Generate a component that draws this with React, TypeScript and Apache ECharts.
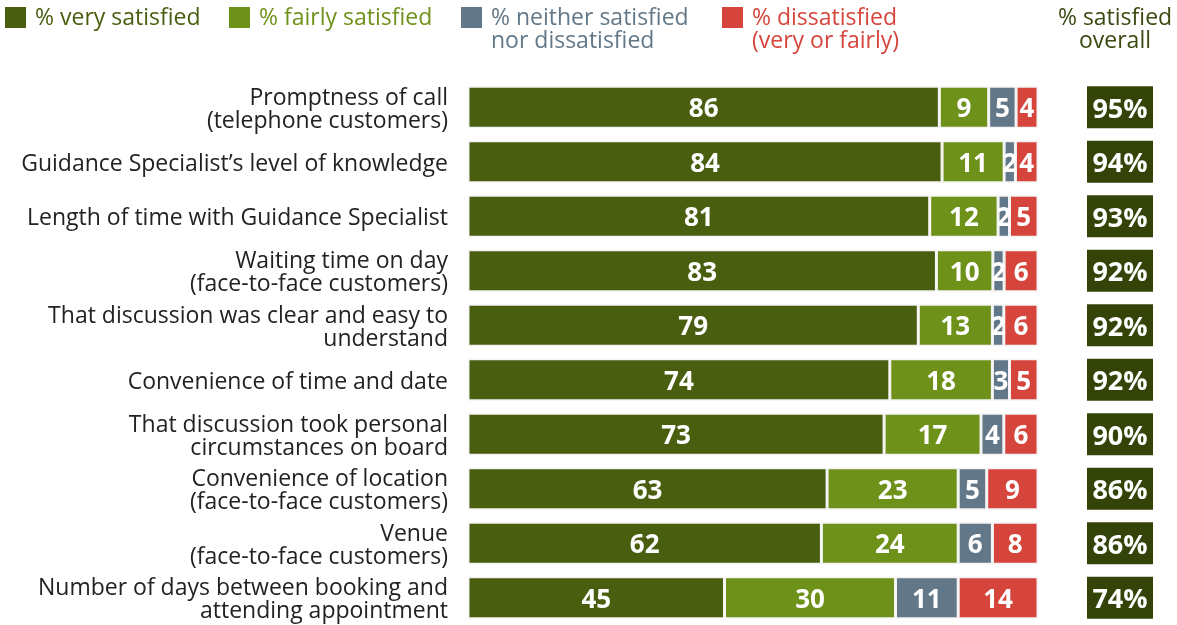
import React, { useEffect, useRef } from "react";
import * as echarts from "echarts";

const categories = [
  "Promptness of call\n(telephone customers)",
  "Guidance Specialist’s level of knowledge",
  "Length of time with Guidance Specialist",
  "Waiting time on day\n(face-to-face customers)",
  "That discussion was clear and easy to\nunderstand",
  "Convenience of time and date",
  "That discussion took personal\ncircumstances on board",
  "Convenience of location\n(face-to-face customers)",
  "Venue\n(face-to-face customers)",
  "Number of days between booking and\nattending appointment",
];
const verySatisfied = [86, 84, 81, 83, 79, 74, 73, 63, 62, 45];
const fairlySatisfied = [9, 11, 12, 10, 13, 18, 17, 23, 24, 30];
const neither = [5, 2, 2, 2, 2, 3, 4, 5, 6, 11];
const dissatisfied = [4, 4, 5, 6, 6, 5, 6, 9, 8, 14];
const overall = [95, 94, 93, 92, 92, 92, 90, 86, 86, 74];

const seriesNames = [
  "% very satisfied",
  "% fairly satisfied",
  "% neither satisfied\nnor dissatisfied",
  "% dissatisfied\n(very or fairly)",
];
const colors = ["#4a5e10", "#6e9119", "#627888", "#d6453b"];
const FONT = "'Open Sans', 'Noto Sans', sans-serif";

export default function App() {
  const ref = useRef<HTMLDivElement>(null);
  useEffect(() => {
    if (!ref.current) return;
    const chart = echarts.init(ref.current, null, { renderer: "svg" });
    const raw = [verySatisfied, fairlySatisfied, neither, dissatisfied];
    const totals = categories.map((_, i) => raw.reduce((s, a) => s + a[i], 0));
    const top = 80;
    const height = 550;

    const legendX = [5, 229, 461, 722];
    const graphic: any[] = [];
    seriesNames.forEach((n, k) => {
      graphic.push({
        type: "rect",
        shape: { x: legendX[k], y: 7, width: 21, height: 21 },
        style: { fill: colors[k] },
      });
      graphic.push({
        type: "text",
        x: legendX[k] + 30,
        y: 4,
        style: {
          text: n,
          fill: colors[k],
          font: `23px ${FONT}`,
          lineHeight: 23,
        },
      });
    });
    graphic.push({
      type: "text",
      x: 1115,
      y: 4,
      style: {
        text: "% satisfied\noverall",
        fill: "#3a4a10",
        font: `23px ${FONT}`,
        lineHeight: 23,
        align: "center",
      },
    });

    chart.setOption({
      animation: false,
      graphic,
      grid: [
        { left: 468, width: 570, top, height, containLabel: false },
        { left: 1087, width: 66, top, height, containLabel: false },
      ],
      xAxis: [
        { type: "value", gridIndex: 0, min: 0, max: 100, show: false },
        { type: "value", gridIndex: 1, min: 0, max: 1, show: false },
      ],
      yAxis: [
        {
          type: "category",
          gridIndex: 0,
          data: categories,
          inverse: true,
          axisLine: { show: false },
          axisTick: { show: false },
          axisLabel: {
            margin: 20,
            color: "#222",
            fontSize: 23,
            fontFamily: FONT,
            lineHeight: 23,
            align: "right",
          },
        },
        {
          type: "category",
          gridIndex: 1,
          data: categories,
          inverse: true,
          show: false,
        },
      ],
      series: [
        ...raw.map((arr, k) => ({
          type: "bar",
          name: seriesNames[k],
          stack: "total",
          xAxisIndex: 0,
          yAxisIndex: 0,
          barWidth: 42,
          data: arr.map((v, i) => (v / totals[i]) * 100),
          itemStyle: { color: colors[k], borderColor: "#f4f4f4", borderWidth: 1.5 },
          label: {
            show: true,
            position: "inside",
            color: "#fff",
            fontSize: 26,
            fontWeight: "bold",
            fontFamily: FONT,
            formatter: (p: any) => String(arr[p.dataIndex]),
          },
        })),
        {
          type: "bar",
          name: "overall",
          xAxisIndex: 1,
          yAxisIndex: 1,
          barWidth: 42,
          data: overall.map(() => 1),
          itemStyle: { color: "#344409" },
          label: {
            show: true,
            position: "inside",
            color: "#fff",
            fontSize: 27,
            fontWeight: "bold",
            fontFamily: FONT,
            formatter: (p: any) => overall[p.dataIndex] + "%",
          },
        },
      ],
    });
    return () => chart.dispose();
  }, []);
  return <div ref={ref} style={{ width: 1177, height: 625, position: "fixed", left: 0, top: 0 }} />;
}
